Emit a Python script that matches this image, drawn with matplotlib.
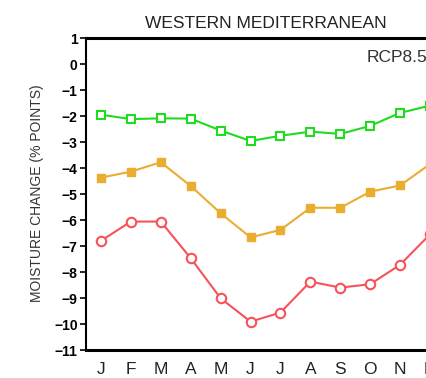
import matplotlib
matplotlib.use("Agg")
import matplotlib.pyplot as plt

months = ["J", "F", "M", "A", "M", "J", "J", "A", "S", "O", "N", "D"]
month_idx = list(range(1, 13))

# monthly moisture change, % points
low = [-1.95, -2.12, -2.09, -2.10, -2.56, -2.96, -2.76, -2.60, -2.69, -2.38, -1.88, -1.60]
mid = [-4.37, -4.14, -3.78, -4.69, -5.74, -6.67, -6.38, -5.53, -5.53, -4.91, -4.67, -3.85]
high = [-6.80, -6.06, -6.06, -7.47, -9.01, -9.91, -9.56, -8.37, -8.60, -8.47, -7.72, -6.55]

yticks = list(range(-11, 2))

plt.rcParams["font.family"] = ["Liberation Sans", "DejaVu Sans"]

fig = plt.figure(figsize=(4.26, 3.78), dpi=100)
ax = fig.add_axes([86 / 426, 28 / 378, 359 / 426, 312 / 378])

ax.plot(month_idx, low, color="#1fdc1f", lw=1.5, marker="s", ms=6.3,
        mfc="white", mec="#1fdc1f", mew=1.5, clip_on=False)
ax.plot(month_idx, mid, color="#e9ae30", lw=1.5, marker="s", ms=6.3,
        mfc="#e9ae30", mec="#e9ae30", clip_on=False)
ax.plot(month_idx, high, color="#f7525a", lw=1.5, marker="o", ms=6.8,
        mfc="white", mec="#f7525a", mew=1.5, clip_on=False)

ax.set_xlim(0.5, 12.5)
ax.set_ylim(-11, 1)
ax.set_yticks(yticks)
ax.set_yticklabels([str(v) if v >= 0 else "\u2212" + str(-v) for v in yticks],
                   fontweight="bold", fontsize=10)
ax.set_xticks(month_idx)
ax.set_xticklabels(months, fontsize=12.5, color="#222222")
ax.tick_params(axis="y", direction="out", length=4, width=1.2, pad=2)
ax.tick_params(axis="x", length=0, pad=9)

for side in ("top", "bottom"):
    ax.spines[side].set_linewidth(2.2)
ax.spines["left"].set_linewidth(1.5)
ax.spines["right"].set_visible(False)

ax.set_title("WESTERN MEDITERRANEAN", fontsize=12.5, color="#222222", pad=7)
ax.text(0.783, 0.939, "RCP8.5", transform=ax.transAxes, fontsize=12.5,
        color="#333333", ha="left", va="center")
fig.text(37.5 / 426, 1 - 193.5 / 378, "MOISTURE CHANGE (% POINTS)", rotation=90,
         ha="center", va="center", fontsize=10, color="#333333")

fig.savefig("out.png", dpi=100)
